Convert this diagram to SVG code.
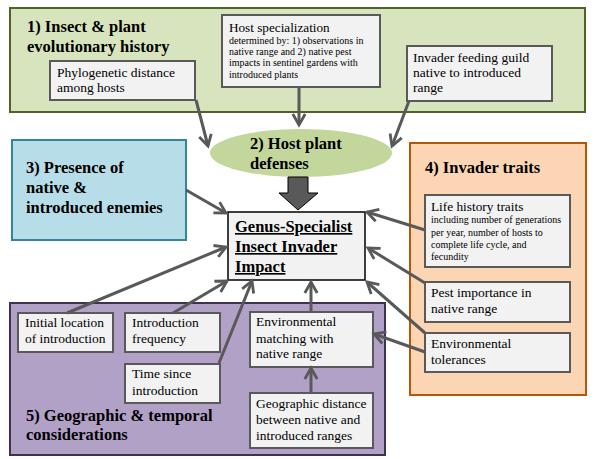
<svg xmlns="http://www.w3.org/2000/svg" width="600" height="459" viewBox="0 0 600 459" font-family="'Liberation Serif', serif">
<style>
text{font-family:'Liberation Serif','Times New Roman',serif;fill:#000}
.h{font-weight:bold;font-size:16.5px}
.t{font-size:13.5px}
.s{font-size:10px}
.u{font-weight:bold;font-size:16.5px;text-decoration:underline}
.box{fill:#f2f2f2;stroke:#595959;stroke-width:2}
.c{stroke:#595959;stroke-width:3;fill:none;marker-end:url(#ah)}
</style>
<defs>
<marker id="ah" markerUnits="userSpaceOnUse" markerWidth="16" markerHeight="16" refX="12.5" refY="8" orient="auto">
<path d="M1.5,1.8 L12.5,8 L1.5,14.2" fill="none" stroke="#595959" stroke-width="2.8" stroke-linejoin="miter"/>
</marker>
</defs>
<rect width="600" height="459" fill="#fff"/>

<g id="region1">
<rect x="10" y="8" width="575" height="104" fill="#d7e4bd" stroke="#4f6228" stroke-width="2"/>
<text class="h" x="27" y="32">1) Insect &amp; plant</text>
<text class="h" x="27" y="52">evolutionary history</text>
</g>
<g id="phylo">
<rect class="box" x="50" y="61" width="145" height="39"/>
<text class="t" x="57" y="77">Phylogenetic distance</text>
<text class="t" x="57" y="92">among hosts</text>
</g>
<g id="hostspec">
<rect class="box" x="222" y="15" width="158" height="72"/>
<text class="t" x="229" y="32" style="font-size:13.2px">Host specialization</text>
<text class="s" x="229" y="44">determined by: 1) observations in</text>
<text class="s" x="229" y="55">native range and 2) native pest</text>
<text class="s" x="229" y="66">impacts in sentinel gardens with</text>
<text class="s" x="229" y="78">introduced plants</text>
</g>
<g id="feeding">
<rect class="box" x="407" y="46" width="145" height="55"/>
<text class="t" x="413" y="62">Invader feeding guild</text>
<text class="t" x="413" y="77">native to introduced</text>
<text class="t" x="413" y="92">range</text>
</g>

<g id="defenses">
<ellipse cx="301" cy="153" rx="91" ry="24" fill="#c3d69b"/>
<text class="h" x="250" y="149">2) Host plant</text>
<text class="h" x="250" y="169">defenses</text>
</g>

<g id="region3">
<rect x="12" y="140" width="174" height="100" fill="#b7dde8" stroke="#31859c" stroke-width="2"/>
<text class="h" x="26" y="173">3) Presence of</text>
<text class="h" x="26" y="193">native &amp;</text>
<text class="h" x="26" y="213">introduced enemies</text>
</g>

<g id="region4">
<rect x="410" y="143" width="176" height="252" fill="#fcd5b5" stroke="#b65708" stroke-width="2"/>
<text class="h" x="425" y="173">4) Invader traits</text>
</g>
<g id="lifehistory">
<rect class="box" x="425" y="195" width="145" height="72"/>
<text class="t" x="431" y="211" style="font-size:13.3px">Life history traits</text>
<text class="s" x="431" y="223">including number of generations</text>
<text class="s" x="431" y="236">per year, number of hosts to</text>
<text class="s" x="431" y="248">complete life cycle, and</text>
<text class="s" x="431" y="260">fecundity</text>
</g>
<g id="pest">
<rect class="box" x="425" y="282" width="145" height="40"/>
<text class="t" x="431" y="297">Pest importance in</text>
<text class="t" x="431" y="313">native range</text>
</g>
<g id="tolerances">
<rect class="box" x="425" y="333" width="145" height="39"/>
<text class="t" x="431" y="348">Environmental</text>
<text class="t" x="431" y="364">tolerances</text>
</g>

<g id="region5">
<rect x="10" y="303" width="375" height="152" fill="#b2a1c7" stroke="#3f3151" stroke-width="2"/>
<text class="h" x="26" y="421">5) Geographic &amp; temporal</text>
<text class="h" x="26" y="440">considerations</text>
</g>
<g id="initial">
<rect class="box" x="18" y="313" width="95" height="39"/>
<text class="t" x="25" y="327">Initial location</text>
<text class="t" x="25" y="343">of introduction</text>
</g>
<g id="frequency">
<rect class="box" x="125" y="313" width="95" height="39"/>
<text class="t" x="132" y="327">Introduction</text>
<text class="t" x="132" y="343">frequency</text>
</g>
<g id="timesince">
<rect class="box" x="125" y="364" width="95" height="39"/>
<text class="t" x="132" y="378">Time since</text>
<text class="t" x="132" y="395">introduction</text>
</g>
<g id="envmatch">
<rect class="box" x="250" y="312" width="123" height="55"/>
<text class="t" x="256" y="326">Environmental</text>
<text class="t" x="256" y="343">matching with</text>
<text class="t" x="256" y="358">native range</text>
</g>
<g id="geodist">
<rect class="box" x="250" y="393" width="123" height="55"/>
<text class="t" x="256" y="408">Geographic distance</text>
<text class="t" x="256" y="424">between native and</text>
<text class="t" x="256" y="440">introduced ranges</text>
</g>

<g id="impact">
<rect x="228" y="212" width="137" height="68" fill="#f2f2f2" stroke="#000" stroke-width="1.5"/>
<text class="u" x="235" y="232">Genus-Specialist</text>
<text class="u" x="235" y="252">Insect Invader</text>
<text class="u" x="235" y="272">Impact</text>
</g>

<g id="connectors">
<polygon points="288,177 308,177 308,193 318,193 298,210 279,193 288,193" fill="#595959" stroke="#000" stroke-width="1"/>
<line class="c" x1="196" y1="100" x2="208" y2="146"/>
<line class="c" x1="299" y1="87" x2="299" y2="125"/>
<line class="c" x1="409" y1="101" x2="392" y2="146"/>
<line class="c" x1="186" y1="190" x2="226" y2="213"/>
<line class="c" x1="67" y1="313" x2="226" y2="247"/>
<line class="c" x1="173" y1="313" x2="227" y2="281"/>
<line class="c" x1="219" y1="363" x2="252" y2="281"/>
<line class="c" x1="311" y1="312" x2="311" y2="282"/>
<line class="c" x1="311" y1="393" x2="311" y2="368"/>
<line class="c" x1="425" y1="352" x2="374" y2="334"/>
<line class="c" x1="425" y1="230" x2="367" y2="212"/>
<line class="c" x1="425" y1="283" x2="368" y2="248"/>
<line class="c" x1="425" y1="333" x2="367" y2="282"/>
</g>
</svg>
